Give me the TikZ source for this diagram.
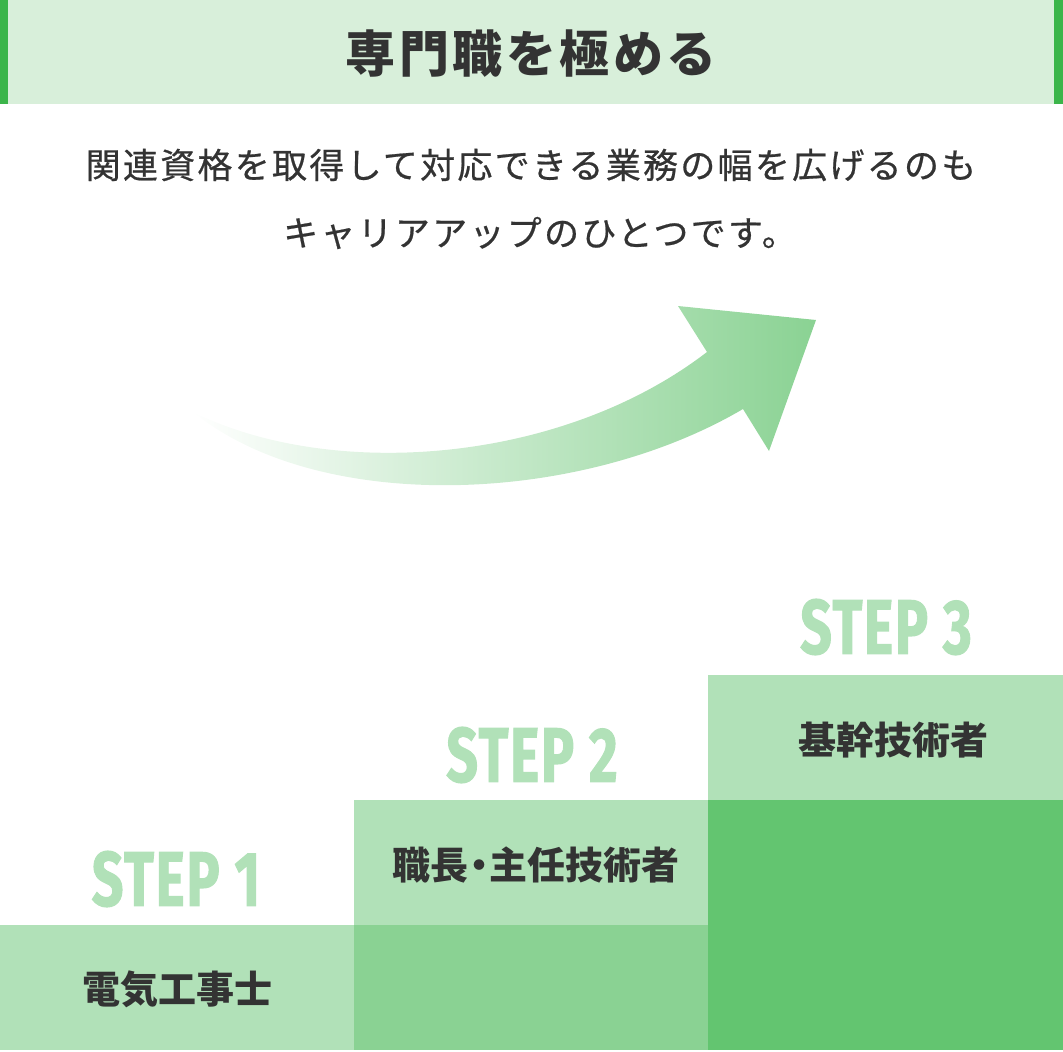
\documentclass[tikz,border=0pt]{standalone}
\usepackage{fontspec}
\usepackage{graphicx}
\newfontfamily\jptitle[LetterSpace=7]{Noto Sans CJK JP}
\newfontfamily\jpsub[LetterSpace=6.5,FakeBold=0.6]{Noto Sans CJK JP}
\newfontfamily\jp{Noto Sans CJK JP}
\newfontfamily\stepfont[LetterSpace=3,BoldFeatures={FakeBold=1.6,LetterSpace=3}]{Fira Sans}
\definecolor{barG}{HTML}{3BB54A}
\definecolor{titleBg}{HTML}{D8EFDA}
\definecolor{lightG}{HTML}{B1E1B8}
\definecolor{midG}{HTML}{8AD293}
\definecolor{darkG}{HTML}{63C570}
\definecolor{txt}{HTML}{333333}
\tikzset{
  titletext/.style={inner sep=0pt, text=txt, font=\jptitle\bfseries\fontsize{50}{58}\selectfont},
  subtext/.style={inner sep=0pt, text=txt, font=\jpsub\fontsize{35}{40}\selectfont},
  jobtext/.style={inner sep=0pt, text=txt, font=\jp\bfseries\fontsize{38}{44}\selectfont},
  steptext/.style={inner sep=0pt, text=lightG, font=\stepfont\bfseries\fontsize{77}{80}\selectfont},
}
\begin{document}
\begin{tikzpicture}[x=1pt,y=-1pt]
\useasboundingbox (0,0) rectangle (1063,1052);
% title bar
\fill[titleBg] (0,0) rectangle (1063,104);
\fill[barG] (0,0) rectangle (8,104);
\fill[barG] (1054,0) rectangle (1063,104);
\node[titletext] (title) at (531,54) {専門職を極める};
% subtitle
\node[subtext] (sub1) at (531,165) {関連資格を取得して対応できる業務の幅を広げるのも};
\node[subtext] (sub2) at (540,233) {キャリアアップのひとつです。};
% arrow
\shade[left color=white, right color=midG]
  (193,412) .. controls (330,480) and (560,465) .. (707,352)
  -- (678,306) -- (816,320) -- (769,451) -- (743,409)
  .. controls (580,505) and (320,515) .. (193,412) -- cycle;
% steps
\fill[lightG] (0,925) rectangle (354,1050);
\fill[lightG] (354,800) rectangle (708,925);
\fill[midG] (354,925) rectangle (708,1050);
\fill[lightG] (708,675) rectangle (1063,800);
\fill[darkG] (708,800) rectangle (1063,1050);
\node[jobtext] (job1) at (177,989) {電気工事士};
\node[jobtext] (job2) at (536,865) {職長\kern-0.22em・\kern-0.22em主任技術者};
\node[jobtext] (job3) at (893,740) {基幹技術者};
\node[steptext] (step1) at (176,879) {\scalebox{0.72}[1]{STEP 1}};
\node[steptext] (step2) at (532,755) {\scalebox{0.72}[1]{STEP 2}};
\node[steptext] (step3) at (886,627) {\scalebox{0.72}[1]{STEP 3}};
\end{tikzpicture}
\end{document}
